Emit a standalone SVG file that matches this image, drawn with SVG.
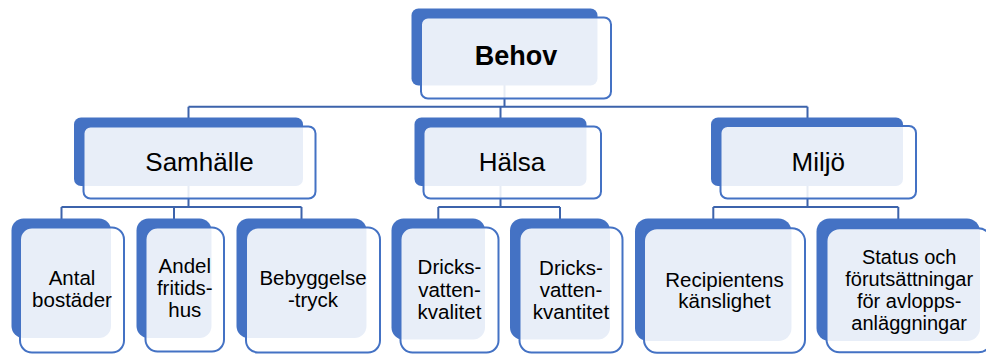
<svg xmlns="http://www.w3.org/2000/svg" width="986" height="354" viewBox="0 0 986 354">
<style>
.back{fill:#4472C4;}
.front{fill:#FFFFFF;fill-opacity:0.88;stroke:#4472C4;stroke-width:2;}
.conn{fill:none;stroke:#3C63AB;stroke-width:2;}
text{font-family:"Liberation Sans",Arial,sans-serif;fill:#000;text-anchor:middle;}
.t0{font-size:27px;font-weight:bold;}
.t1{font-size:26px;}
.t2{font-size:20.5px;}
.t3{font-size:20px;}
</style>
<rect width="986" height="354" fill="#FFFFFF"/>
<g id="connectors">
<path class="conn" d="M504.5 85 V106.7 M188.5 106.7 H807.5 M188.5 106.7 V118 M500.5 106.7 V118 M807.5 106.7 V118"/>
<path class="conn" d="M188.5 186 V207 M61.5 207 H301.5 M61.5 207 V219 M174 207 V219 M301.5 207 V219"/>
<path class="conn" d="M500.5 186 V207 M438.3 207 H560 M438.3 207 V219 M560 207 V219"/>
<path class="conn" d="M807.5 186 V207 M713.3 207 H898.3 M713.3 207 V219 M898.3 207 V219"/>
</g>
<g id="behov">
<rect class="back" x="411.5" y="8.5" width="186" height="77" rx="7"/>
<rect class="front" x="421" y="17.5" width="190" height="81" rx="7"/>
<text class="t0" x="516" y="65">Behov</text>
</g>
<g id="samhalle">
<rect class="back" x="74" y="117.5" width="229" height="68.5" rx="7"/>
<rect class="front" x="83.5" y="126.5" width="232" height="72" rx="7"/>
<text class="t1" x="199.5" y="171">Samhälle</text>
</g>
<g id="halsa">
<rect class="back" x="414.5" y="117.5" width="172" height="68.5" rx="7"/>
<rect class="front" x="423.5" y="126.5" width="177.5" height="72" rx="7"/>
<text class="t1" x="512" y="171">Hälsa</text>
</g>
<g id="miljo">
<rect class="back" x="711" y="117.5" width="192" height="68.5" rx="7"/>
<rect class="front" x="720.5" y="126" width="195.5" height="72.5" rx="7"/>
<text class="t1" x="818.3" y="171">Miljö</text>
</g>
<g id="antal-bostader">
<rect class="back" x="11.5" y="218.5" width="99.5" height="119.5" rx="12"/>
<rect class="front" x="20" y="227.5" width="104" height="125" rx="12"/>
<text class="t2" x="72" y="285">Antal</text>
<text class="t2" x="72" y="306.7">bostäder</text>
</g>
<g id="andel-fritidshus">
<rect class="back" x="136.5" y="218.5" width="75" height="119.5" rx="12"/>
<rect class="front" x="145.5" y="227.5" width="78.5" height="124" rx="12"/>
<text class="t2" x="184.8" y="273.3">Andel</text>
<text class="t2" x="184.8" y="295">fritids-</text>
<text class="t2" x="184.8" y="316.7">hus</text>
</g>
<g id="bebyggelsetryck">
<rect class="back" x="236.5" y="218.5" width="130" height="119.5" rx="12"/>
<rect class="front" x="246" y="227.5" width="134" height="125" rx="12"/>
<text class="t2" x="313" y="285">Bebyggelse</text>
<text class="t2" x="313" y="306.7">-tryck</text>
</g>
<g id="dricksvattenkvalitet">
<rect class="back" x="391.5" y="218.5" width="93.5" height="121" rx="12"/>
<rect class="front" x="400.5" y="227.5" width="98" height="125" rx="12"/>
<text class="t2" x="449.5" y="274">Dricks-</text>
<text class="t2" x="449.5" y="296.5">vatten-</text>
<text class="t2" x="449.5" y="318.5">kvalitet</text>
</g>
<g id="dricksvattenkvantitet">
<rect class="back" x="510" y="218.5" width="100" height="121" rx="12"/>
<rect class="front" x="519.5" y="227.5" width="103" height="125" rx="12"/>
<text class="t2" x="571" y="274.5">Dricks-</text>
<text class="t2" x="571" y="297">vatten-</text>
<text class="t2" x="571" y="319">kvantitet</text>
</g>
<g id="recipientens-kanslighet">
<rect class="back" x="635" y="218.5" width="156.5" height="122.5" rx="13"/>
<rect class="front" x="644" y="228.3" width="161" height="124.5" rx="13"/>
<text class="t2" x="724.5" y="286.7">Recipientens</text>
<text class="t2" x="724.5" y="308.3">känslighet</text>
</g>
<g id="status-avloppsanlaggningar">
<rect class="back" x="816.5" y="218.5" width="163.5" height="122.5" rx="13"/>
<rect class="front" x="826.5" y="228.3" width="165" height="124" rx="13"/>
<text class="t3" x="909.2" y="264">Status och</text>
<text class="t3" x="909.2" y="286">förutsättningar</text>
<text class="t3" x="909.2" y="308">för avlopps-</text>
<text class="t3" x="909.2" y="330">anläggningar</text>
</g>
</svg>
